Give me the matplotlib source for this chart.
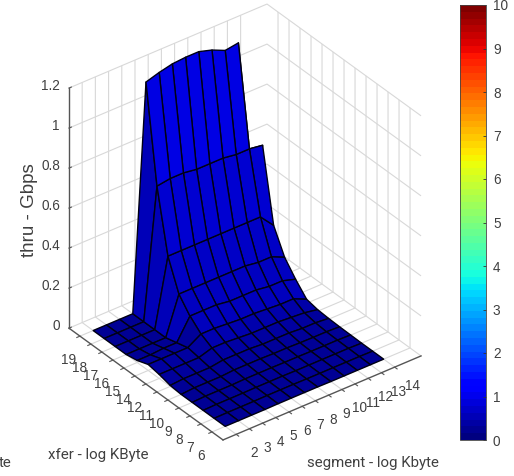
import numpy as np
import matplotlib
matplotlib.use('Agg')
import matplotlib.pyplot as plt
from matplotlib.cm import ScalarMappable
from matplotlib.colors import Normalize
from mpl_toolkits.mplot3d import proj3d

plt.rcParams['font.family'] = ['Liberation Sans', 'DejaVu Sans']

# tick labels
seg_labels = [2, 3, 4, 5, 6, 7, 8, 9, 10, 11, 12, 13, 14]
xfer_labels = [19, 18, 17, 16, 15, 14, 12, 11, 10, 9, 8, 7, 6]
thru_ticks = [0, 0.2, 0.4, 0.6, 0.8, 1, 1.2]
thru_labels = ['0', '0.2', '0.4', '0.6', '0.8', '1', '1.2']

# thru (Gbps), one row per xfer label, one column per segment label
row_19 = [0, 0, 0, 0, 1.13, 1.15, 1.165, 1.17, 1.17, 1.15, 1.12, 1.13, 0]
row_18 = [0, 0, 0, 0, 0.65, 0.66, 0.66, 0.65, 0.65, 0.65, 0.64, 0.64, 0.63]
row_17 = [0, 0, 0, 0, 0.34, 0.34, 0.34, 0.34, 0.34, 0.34, 0.34, 0.34, 0.27]
row_16 = [0, 0, 0, 0, 0.19, 0.19, 0.19, 0.19, 0.19, 0.19, 0.18, 0.18, 0.15]
row_15 = [0.01, 0.01, 0.015, 0.015, 0.12, 0.12, 0.12, 0.11, 0.11, 0.11, 0.10, 0.10, 0.08]
row_14 = [0.03, 0.03, 0.03, 0.03, 0.07, 0.07, 0.065, 0.06, 0.06, 0.055, 0.05, 0.05, 0.02]
row_12 = [0.02, 0.02, 0.02, 0.02, 0.04, 0.04, 0.035, 0.03, 0.03, 0.03, 0.025, 0.02, 0.008]
row_11 = [0.005, 0.01, 0.01, 0.01, 0.02, 0.02, 0.02, 0.015, 0.015, 0.015, 0.01, 0.01, 0.004]
row_10 = [0, 0.005, 0.005, 0.005, 0.01, 0.01, 0.01, 0.008, 0.008, 0.006, 0.005, 0.005, 0.002]
row_9 = [0, 0.003, 0.003, 0.003, 0.005, 0.005, 0.005, 0.004, 0.004, 0.003, 0.003, 0.003, 0.001]
row_8 = [0, 0.002, 0.002, 0.002, 0.003, 0.003, 0.003, 0.002, 0.002, 0.002, 0.002, 0.002, 0]
row_7 = [0, 0.001, 0.001, 0.001, 0.002, 0.002, 0.002, 0.001, 0.001, 0.001, 0.001, 0.001, 0]
row_6 = [0, 0, 0, 0, 0.001, 0.001, 0.001, 0.001, 0, 0, 0, 0, 0]

thru = np.array([row_19, row_18, row_17, row_16, row_15, row_14, row_12,
                 row_11, row_10, row_9, row_8, row_7, row_6])

W, H = 514, 476
fig = plt.figure(figsize=(W / 100, H / 100), dpi=100)
ax = fig.add_axes([16.7 / W, 25.7 / H, 444.6 / W, 444.6 / H], projection='3d', proj_type='ortho')
ax.view_init(elev=33.7, azim=232.6)
ax.set_box_aspect((249.3, 253.6, 288.6))

# positions are by index, the labels are not evenly spaced values
x_pos = np.arange(1, 14)
y_pos = np.arange(13, 0, -1)
X, Y = np.meshgrid(x_pos, y_pos)

jet = plt.get_cmap('jet', 64)
norm = Normalize(0, 10)
# blues as they look in the reference, a bit off the pure jet values
face = jet(norm(thru))
face[..., 2] = np.interp(thru, [0, 0.1, 0.65, 1.2], [0.58, 0.74, 0.82, 0.9])
face[:4, 3, 2] = 0.72  # steep strip up to the ridge
surf = ax.plot_surface(X, Y, thru, rstride=1, cstride=1, facecolors=face,
                       shade=False, linewidth=1.0)
surf.set_edgecolor('#000014')
surf.set_zsort('max')

ax.set_xlim(0, 15, view_margin=0)
ax.set_ylim(0, 14, view_margin=0)
ax.set_zlim(0, 1.2, view_margin=0)
ax.set_xticks(x_pos)
ax.set_xticklabels([])
ax.set_yticks(y_pos)
ax.set_yticklabels([])
ax.set_zticks(thru_ticks)
ax.set_zticklabels([])

for axis in (ax.xaxis, ax.yaxis, ax.zaxis):
    axis.set_pane_color((1, 1, 1, 1))
    axis.pane.set_edgecolor('none')
    axis.line.set_color('#555555')
    axis.line.set_linewidth(1.0)
    axis._axinfo['grid'].update(color='#d8d8d8', linewidth=0.8)
    axis._axinfo['tick'].update(inward_factor=0.2, outward_factor=0.0, linewidth={True: 0.8, False: 0.8})
ax.zaxis._axinfo['tick'].update(inward_factor=0.0, outward_factor=0.15)
ax.tick_params(color='#555555')


def tick_text(x, y, z, s, ha='center'):
    # tick labels sit where matlab put them, not where mplot3d would
    px, py, _ = proj3d.proj_transform(x, y, z, ax.get_proj())
    ax.text2D(px, py, str(s), transform=ax.transData, fontsize=tick_size,
              color='#404040', ha=ha, va='center')


tick_size = 9.8
for x, s in zip(x_pos, seg_labels):
    tick_text(x, -1.6, -0.03, s)
for y, s in zip(y_pos, xfer_labels):
    tick_text(-0.85, y, -0.095, s)
for z, s in zip(thru_ticks, thru_labels):
    tick_text(-0.68, 14, z + 0.03, s, ha='right')

label_font = ['Roboto', 'Liberation Sans']
fig.text(48 / W, 1 - 455 / H, 'xfer - log KByte', fontsize=10.8, color='#404040', va='center', family=label_font)
fig.text(307 / W, 1 - 463 / H, 'segment - log Kbyte', fontsize=10.8, color='#404040', va='center', family=label_font)
fig.text(-1 / W, 1 - 463 / H, 'te', fontsize=10.8, color='#404040', va='center', family=label_font)
fig.text(29 / W, 1 - 210 / H, 'thru - Gbps', fontsize=13.5, color='#404040', rotation=90,
         va='center', ha='center')

cax = fig.add_axes([460 / W, 36 / H, 26 / W, 435 / H])
cb = fig.colorbar(ScalarMappable(norm=norm, cmap=jet), cax=cax, ticks=range(11))
cb.ax.tick_params(direction='in', length=2, width=0.6, labelsize=tick_size, labelcolor='#404040', color='#333333', pad=5)
cb.outline.set_linewidth(0.6)
cb.outline.set_edgecolor('#444444')

fig.savefig('out.png', dpi=100)
